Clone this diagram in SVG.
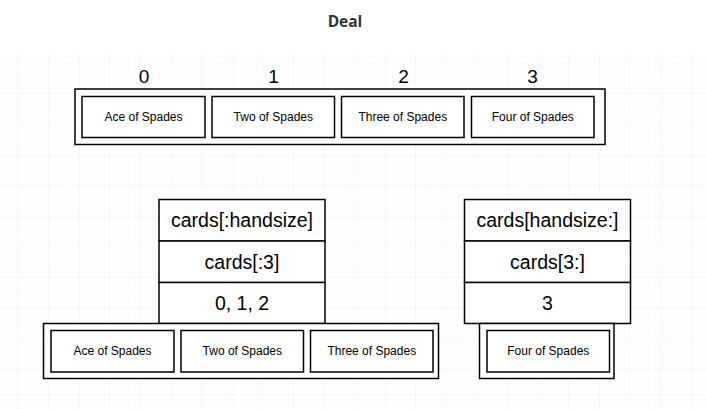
<svg xmlns="http://www.w3.org/2000/svg" width="706" height="409" viewBox="0 0 706 409">
  <style>
    .box { fill: #ffffff; stroke: #000000; stroke-width: 1.5; }
    .small { font-family: "Liberation Sans", Arial, sans-serif; font-size: 12px; fill: #000; text-anchor: middle; }
    .big { font-family: "Liberation Sans", Arial, sans-serif; font-size: 19.5px; fill: #000; text-anchor: middle; }
    .idx { font-family: "Liberation Sans", Arial, sans-serif; font-size: 19px; fill: #000; text-anchor: middle; }
    .title { font-family: "Open Sans", "Liberation Sans", sans-serif; font-size: 15.5px; font-weight: bold; fill: #333; text-anchor: middle; }
  </style>
  <defs>
    <pattern id="minor" x="-12.3" y="33" width="7.65" height="7.65" patternUnits="userSpaceOnUse">
      <path d="M7.65 0 V7.65 M0 7.65 H7.65" fill="none" stroke="#f7f7f7" stroke-width="1"/>
    </pattern>
    <pattern id="major" x="-12.3" y="33" width="30.6" height="30.6" patternUnits="userSpaceOnUse">
      <rect width="30.6" height="30.6" fill="url(#minor)"/>
      <path d="M30.6 0 V30.6 M0 30.6 H30.6" fill="none" stroke="#ededed" stroke-width="1"/>
    </pattern>
  </defs>
  <rect width="706" height="409" fill="#ffffff"/>
  <rect x="0" y="54" width="706" height="355" fill="url(#major)"/>

  <g id="title">
    <text class="title" x="345" y="27">Deal</text>
  </g>

  <g id="deck">
    <rect class="box" x="75" y="89" width="530" height="55.5"/>
    <text class="idx" x="144" y="83">0</text>
    <text class="idx" x="273.5" y="83">1</text>
    <text class="idx" x="403.5" y="83">2</text>
    <text class="idx" x="532.5" y="83">3</text>
  </g>
  <g id="deck-card-0">
    <rect class="box" x="82" y="96.5" width="123" height="41"/>
    <text class="small" x="143.5" y="121">Ace of Spades</text>
  </g>
  <g id="deck-card-1">
    <rect class="box" x="212" y="96.5" width="122.5" height="41"/>
    <text class="small" x="273.3" y="121">Two of Spades</text>
  </g>
  <g id="deck-card-2">
    <rect class="box" x="341.5" y="96.5" width="122.5" height="41"/>
    <text class="small" x="402.8" y="121">Three of Spades</text>
  </g>
  <g id="deck-card-3">
    <rect class="box" x="471.5" y="96.5" width="122.5" height="41"/>
    <text class="small" x="532.8" y="121">Four of Spades</text>
  </g>

  <g id="left-stack">
    <rect class="box" x="159" y="199.5" width="166" height="41.5"/>
    <text class="big" x="242" y="227">cards[:handsize]</text>
    <rect class="box" x="159" y="241" width="166" height="41.5"/>
    <text class="big" x="242" y="268.5">cards[:3]</text>
    <rect class="box" x="159" y="282.5" width="166" height="41"/>
    <text class="big" x="242" y="309.5">0, 1, 2</text>
  </g>
  <g id="hand">
    <rect class="box" x="43.5" y="323.5" width="395" height="55"/>
  </g>
  <g id="hand-card-0">
    <rect class="box" x="51" y="330.5" width="123" height="41.5"/>
    <text class="small" x="112.5" y="355">Ace of Spades</text>
  </g>
  <g id="hand-card-1">
    <rect class="box" x="181" y="330.5" width="122.5" height="41.5"/>
    <text class="small" x="242.3" y="355">Two of Spades</text>
  </g>
  <g id="hand-card-2">
    <rect class="box" x="310.5" y="330.5" width="122.5" height="41.5"/>
    <text class="small" x="371.8" y="355">Three of Spades</text>
  </g>

  <g id="right-stack">
    <rect class="box" x="464.5" y="199.5" width="166" height="41.5"/>
    <text class="big" x="547.5" y="227">cards[handsize:]</text>
    <rect class="box" x="464.5" y="241" width="166" height="41.5"/>
    <text class="big" x="547.5" y="268.5">cards[3:]</text>
    <rect class="box" x="464.5" y="282.5" width="166" height="41"/>
    <text class="big" x="547.5" y="309.5">3</text>
  </g>
  <g id="rest">
    <rect class="box" x="479.5" y="323.5" width="134.5" height="55"/>
  </g>
  <g id="rest-card-0">
    <rect class="box" x="487" y="330.5" width="122.5" height="41.5"/>
    <text class="small" x="548.3" y="355">Four of Spades</text>
  </g>
</svg>
